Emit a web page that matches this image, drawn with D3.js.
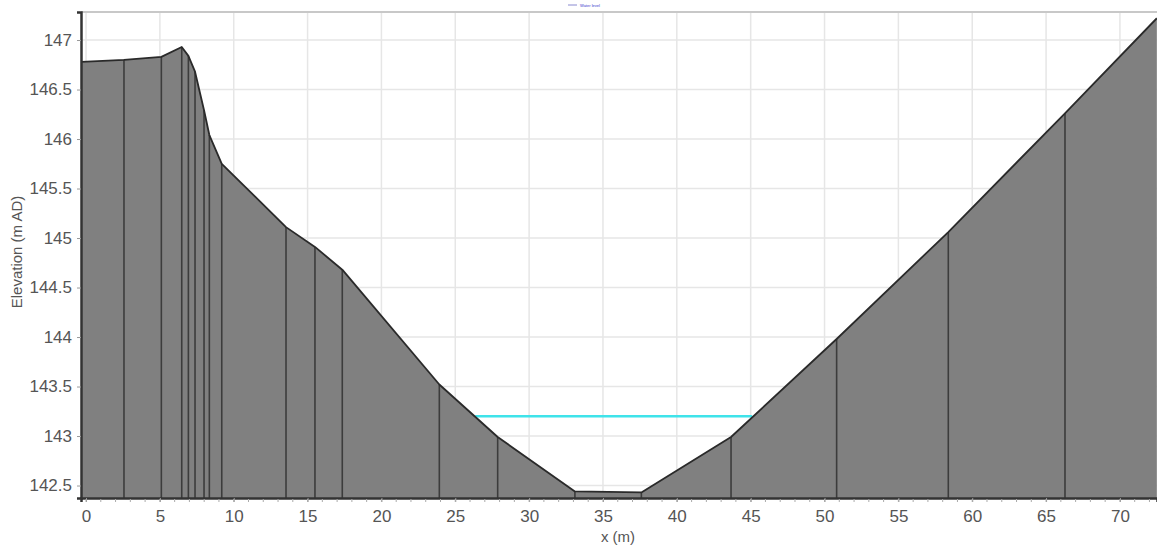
<!DOCTYPE html>
<html>
<head>
<meta charset="utf-8">
<script src="https://cdn.jsdelivr.net/npm/d3@7/dist/d3.min.js"></script>
<style>
  html, body { margin: 0; padding: 0; background: #fff; }
  svg { display: block; }
</style>
</head>
<body>
<svg id="chart" width="1157" height="547"></svg>
<script>
// Cross-section survey: chainage (m) and bed elevation (m AD)
const chainage = [-0.3, 2.57, 5.1, 6.48, 6.93, 7.38, 7.99, 8.35, 9.19, 13.54, 15.5, 17.35,
                  23.92, 27.87, 33.1, 37.6, 43.67, 50.82, 58.38, 66.28, 72.5];
const bedLevel = [146.78, 146.80, 146.83, 146.93, 146.84, 146.68, 146.29, 146.04, 145.75, 145.11, 144.91, 144.68,
                  143.52, 142.99, 142.44, 142.43, 142.99, 143.98, 145.06, 146.26, 147.22];

// Water surface
const waterLevel = 143.2;
const waterExtent = [26.35, 45.1];

// Axis ticks
const xTicks = [0, 5, 10, 15, 20, 25, 30, 35, 40, 45, 50, 55, 60, 65, 70];
const yTicks = [142.5, 143, 143.5, 144, 144.5, 145, 145.5, 146, 146.5, 147];
const xMinorTicks = d3.range(0, 73, 1);

const svg = d3.select("#chart");
const plot = { left: 81, right: 1157, top: 12, bottom: 498 };

const x = d3.scaleLinear().domain([-0.34, 72.51]).range([plot.left, plot.right]);
const y = d3.scaleLinear().domain([142.374, 147.283]).range([plot.bottom, plot.top]);

svg.append("clipPath").attr("id", "plotClip")
  .append("rect")
  .attr("x", plot.left).attr("y", plot.top)
  .attr("width", plot.right - plot.left).attr("height", plot.bottom - plot.top);

// Grid
const grid = svg.append("g");
grid.selectAll("line.gx").data(xTicks).join("line")
  .attr("x1", d => x(d)).attr("x2", d => x(d))
  .attr("y1", plot.top).attr("y2", plot.bottom)
  .attr("stroke", "#e6e6e6").attr("stroke-width", 1.5);
grid.selectAll("line.gy").data(yTicks).join("line")
  .attr("x1", plot.left).attr("x2", plot.right)
  .attr("y1", d => y(d)).attr("y2", d => y(d))
  .attr("stroke", "#e6e6e6").attr("stroke-width", 1.5);

// Top frame
svg.append("line")
  .attr("x1", plot.left).attr("x2", plot.right)
  .attr("y1", plot.top).attr("y2", plot.top)
  .attr("stroke", "#c8c8c8").attr("stroke-width", 2);

const body = svg.append("g").attr("clip-path", "url(#plotClip)");

const pts = chainage.map((c, i) => [c, bedLevel[i]]);

// Water surface line
body.append("line")
  .attr("x1", x(waterExtent[0])).attr("x2", x(waterExtent[1]))
  .attr("y1", y(waterLevel)).attr("y2", y(waterLevel))
  .attr("stroke", "#3fe3ea").attr("stroke-width", 2.5);

// Ground fill
const area = d3.area()
  .x(d => x(d[0]))
  .y0(plot.bottom)
  .y1(d => y(d[1]));
body.append("path")
  .datum(pts)
  .attr("d", area)
  .attr("fill", "#808080");

// Station verticals
body.selectAll("line.station").data(pts.slice(1, -1)).join("line")
  .attr("x1", d => x(d[0])).attr("x2", d => x(d[0]))
  .attr("y1", d => y(d[1])).attr("y2", plot.bottom)
  .attr("stroke", "#3c3c3c").attr("stroke-width", 1.6);

// Ground line
const line = d3.line().x(d => x(d[0])).y(d => y(d[1]));
body.append("path")
  .datum(pts)
  .attr("d", line)
  .attr("fill", "none")
  .attr("stroke", "#2a2a2a").attr("stroke-width", 1.8)
  .attr("stroke-linejoin", "round");

// Axes
const xAxis = d3.axisBottom(x).tickValues(xTicks).tickSize(4).tickPadding(8).tickFormat(d3.format("d"));
const gx = svg.append("g").attr("transform", `translate(0,${plot.bottom})`).call(xAxis);
gx.select(".domain").attr("stroke", "#333").attr("stroke-width", 2.5);
gx.selectAll(".tick line").attr("stroke", "#999");
gx.selectAll("text").attr("font-family", "Liberation Sans, Arial, sans-serif")
  .attr("font-size", 17).attr("fill", "#555");

svg.append("g").selectAll("line").data(xMinorTicks).join("line")
  .attr("x1", d => x(d)).attr("x2", d => x(d))
  .attr("y1", plot.bottom + 1).attr("y2", plot.bottom + 4)
  .attr("stroke", "#aaa").attr("stroke-width", 1);

const yAxis = d3.axisLeft(y).tickValues(yTicks).tickSize(4).tickPadding(5).tickFormat(d => d3.format("")(d));
const gy = svg.append("g").attr("transform", `translate(${plot.left},0)`).call(yAxis);
gy.select(".domain").attr("stroke", "#333").attr("stroke-width", 2.5);
gy.selectAll(".tick line").attr("stroke", "#999");
gy.selectAll("text").attr("font-family", "Liberation Sans, Arial, sans-serif")
  .attr("font-size", 17).attr("fill", "#555");

// Axis titles
svg.append("text")
  .attr("x", 618).attr("y", 542)
  .attr("text-anchor", "middle")
  .attr("font-family", "Liberation Sans, Arial, sans-serif")
  .attr("font-size", 15).attr("fill", "#555")
  .text("x (m)");

svg.append("text")
  .attr("transform", "translate(22,252) rotate(-90)")
  .attr("text-anchor", "middle")
  .attr("font-family", "Liberation Sans, Arial, sans-serif")
  .attr("font-size", 15).attr("fill", "#555")
  .text("Elevation (m AD)");

// Legend
const legend = svg.append("g").attr("transform", "translate(568,5)");
legend.append("line").attr("x1", 0).attr("x2", 9).attr("y1", 0).attr("y2", 0)
  .attr("stroke", "#8a8ad0").attr("stroke-width", 1);
legend.append("text").attr("x", 12).attr("y", 1.5)
  .attr("font-family", "Liberation Sans, Arial, sans-serif")
  .attr("font-size", 4).attr("fill", "#3b3bcc")
  .text("Water level");
</script>
</body>
</html>
